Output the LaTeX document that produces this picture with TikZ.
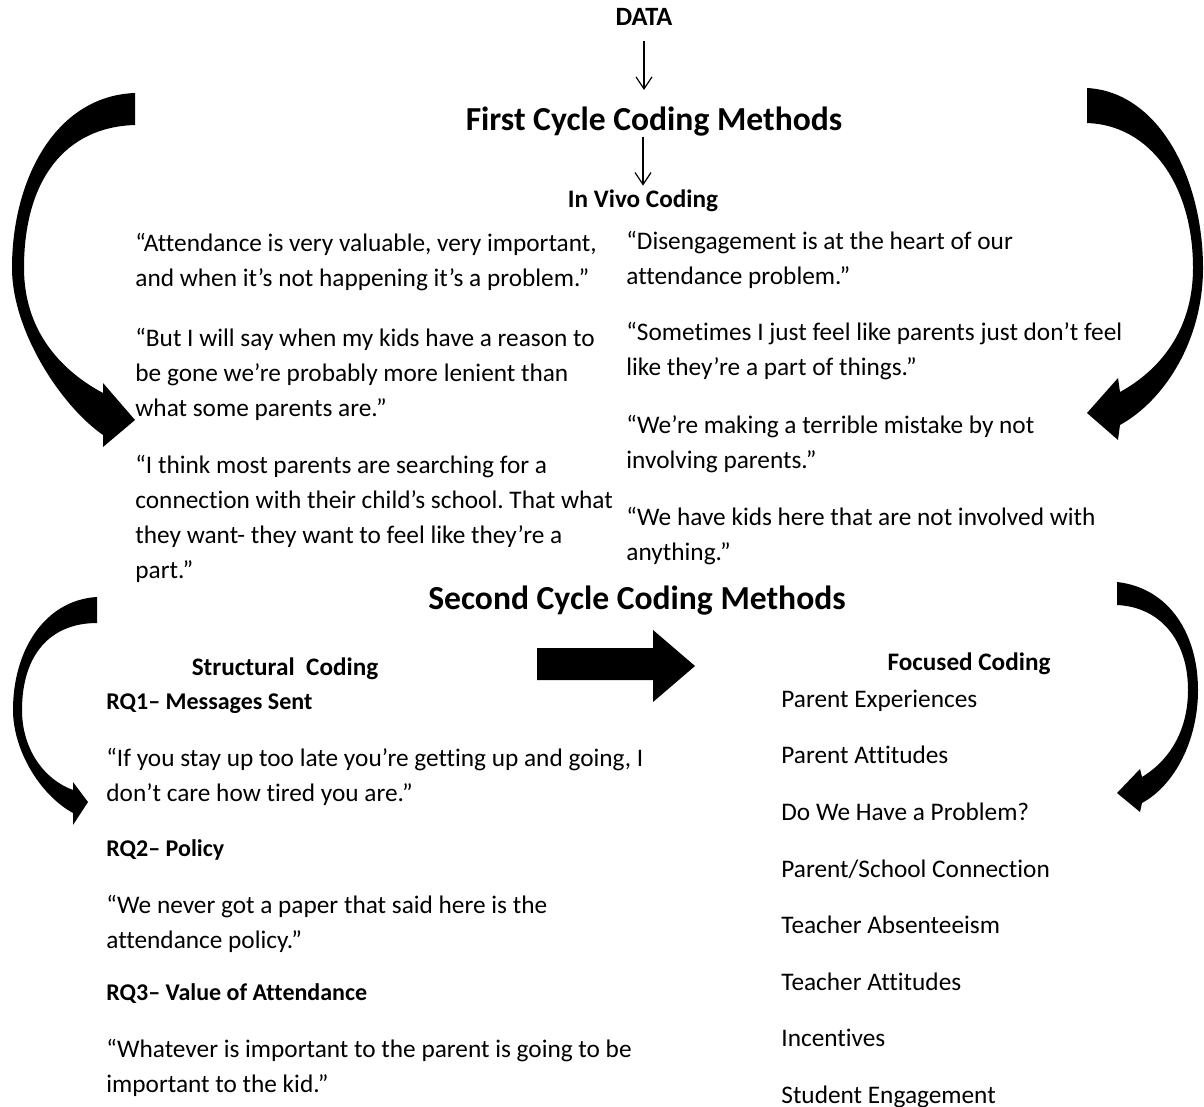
\documentclass[tikz,border=0pt]{standalone}
\usepackage{fontspec}
\setmainfont[Ligatures=NoCommon]{Carlito}
\usepackage{tikz}
\usetikzlibrary{arrows.meta,positioning}
\frenchspacing

\begin{document}
\begin{tikzpicture}[x=0.5pt,y=-0.5pt,
  quote/.style={anchor=west,align=left,inner sep=0pt,font=\fontsize{12.65}{17.5}\selectfont},
  heading/.style={inner sep=0pt,font=\bfseries\fontsize{16.8}{19}\selectfont},
  subhead/.style={inner sep=0pt,font=\bfseries\fontsize{12.6}{14}\selectfont},
  item/.style={anchor=west,inner sep=0pt,text height=9pt,text depth=2.8pt,font=\fontsize{12.65}{14}\selectfont},
  rq/.style={item,font=\bfseries\fontsize{12}{14}\selectfont},
  flow/.style={line width=0.6pt,-{Straight Barb[length=6pt,width=8pt]}},
  big arrow/.style={fill=black,draw=none}]

  \useasboundingbox (0,0) rectangle (1204,1107);

  % headings
  \node[subhead,font=\bfseries\fontsize{13.2}{14}\selectfont] (data) at (644,17) {DATA};
  \node[heading] (first) at (654,122) {First Cycle Coding Methods};
  \node[subhead] (invivo) at (643,201) {In Vivo Coding};
  \node[heading] (second) at (637,601) {Second Cycle Coding Methods};
  \node[subhead] (structural) at (285,669) {Structural\ \ Coding};
  \node[subhead] (focused) at (969,664) {Focused Coding};

  \draw[flow,shorten <=7.5pt,shorten >=8.5pt] (data.south) -- (data.south |- first.north);
  \draw[flow,shorten <=0pt,shorten >=2pt] (invivo.north |- first.south) -- (invivo.north);

  % in vivo quotes, left
  \node[quote] (q1) at (135,262.5) {“Attendance is very valuable, very important,\\and when it’s not happening it’s a problem.”};
  \node[quote] (q2) at (135,374) {“But I will say when my kids have a reason to\\be gone we’re probably\ more lenient than\\what some parents are.”};
  \node[quote] (q3) at (135,518.5) {“I think most parents are searching for a\\connection with their child’s school. That what\\they want- they want to feel like they’re a\\part.”};

  % in vivo quotes, right
  \node[quote] (r1) at (626,259.5) {“Disengagement is at the heart of our\\attendance problem.”};
  \node[quote] (r2) at (626,351.5) {“Sometimes I just feel like parents just don’t feel\\like they’re a part of things.”};
  \node[quote] (r3) at (626,444) {“We’re making a terrible mistake by not\\involving parents.”};
  \node[quote] (r4) at (626,536) {“We have kids here that are not involved with\\anything.”};

  % structural coding
  \node[rq] (rq1) at (106,703) {RQ1– Messages Sent};
  \node[quote] (rq1q) at (106,777) {“If you stay up too late you’re getting up and going, I\\don’t care how tired you are.”};
  \node[rq] (rq2) at (106,850) {RQ2– Policy};
  \node[quote] (rq2q) at (106,923.5) {“We never got a paper that said here is the\\attendance policy.”};
  \node[rq] (rq3) at (106,994) {RQ3– Value of Attendance};
  \node[quote] (rq3q) at (106,1068) {“Whatever is important to the parent is going to be\\important to the kid.”};

  % focused coding
  \node[item] (f1) at (781,701) {Parent Experiences};
  \node[item] (f2) at ([yshift=-28.3pt]f1.west) {Parent Attitudes};
  \node[item] (f3) at ([yshift=-28.3pt]f2.west) {Do We Have a Problem?};
  \node[item] (f4) at ([yshift=-28.3pt]f3.west) {Parent/School Connection};
  \node[item] (f5) at ([yshift=-28.3pt]f4.west) {Teacher Absenteeism};
  \node[item] (f6) at ([yshift=-28.3pt]f5.west) {Teacher Attitudes};
  \node[item] (f7) at ([yshift=-28.3pt]f6.west) {Incentives};
  \node[item] (f8) at ([yshift=-28.3pt]f7.west) {Student Engagement};

  % structural -> focused
  \fill[big arrow] (537,648) -- (653,648) -- (653,630) -- (695,666)
    -- (653,702) -- (653,680) -- (537,680) -- cycle;

  % curved arrows
  \fill[big arrow] (135,93) .. controls (55,96) and (12,180) .. (12,268)
    .. controls (12,330) and (60,405) .. (103,435)
    -- (103,447) -- (135,420) -- (103,383) -- (103,393)
    .. controls (60,370) and (24,330) .. (24,268)
    .. controls (24,180) and (65,127) .. (135,125) -- cycle;
  \fill[big arrow] (1087,88) .. controls (1160,92) and (1203,180) .. (1203,268)
    .. controls (1203,340) and (1165,400) .. (1120,425)
    -- (1118,440) -- (1087,413) -- (1118,378) -- (1120,392)
    .. controls (1160,370) and (1193,330) .. (1193,268)
    .. controls (1193,185) and (1150,125) .. (1087,123) -- cycle;
  \fill[big arrow] (97,597) .. controls (45,600) and (13,650) .. (13,710)
    .. controls (13,750) and (40,795) .. (73,813)
    -- (73,825) -- (88,802) -- (73,782) -- (73,790)
    .. controls (45,780) and (22,750) .. (22,710)
    .. controls (22,655) and (50,623) .. (97,623) -- cycle;
  \fill[big arrow] (1117,582) .. controls (1170,588) and (1198,635) .. (1198,690)
    .. controls (1198,740) and (1175,785) .. (1142,803)
    -- (1140,812) -- (1117,793) -- (1140,769) -- (1142,777)
    .. controls (1170,760) and (1188,730) .. (1188,690)
    .. controls (1188,640) and (1160,607) .. (1117,605) -- cycle;
\end{tikzpicture}
\end{document}
